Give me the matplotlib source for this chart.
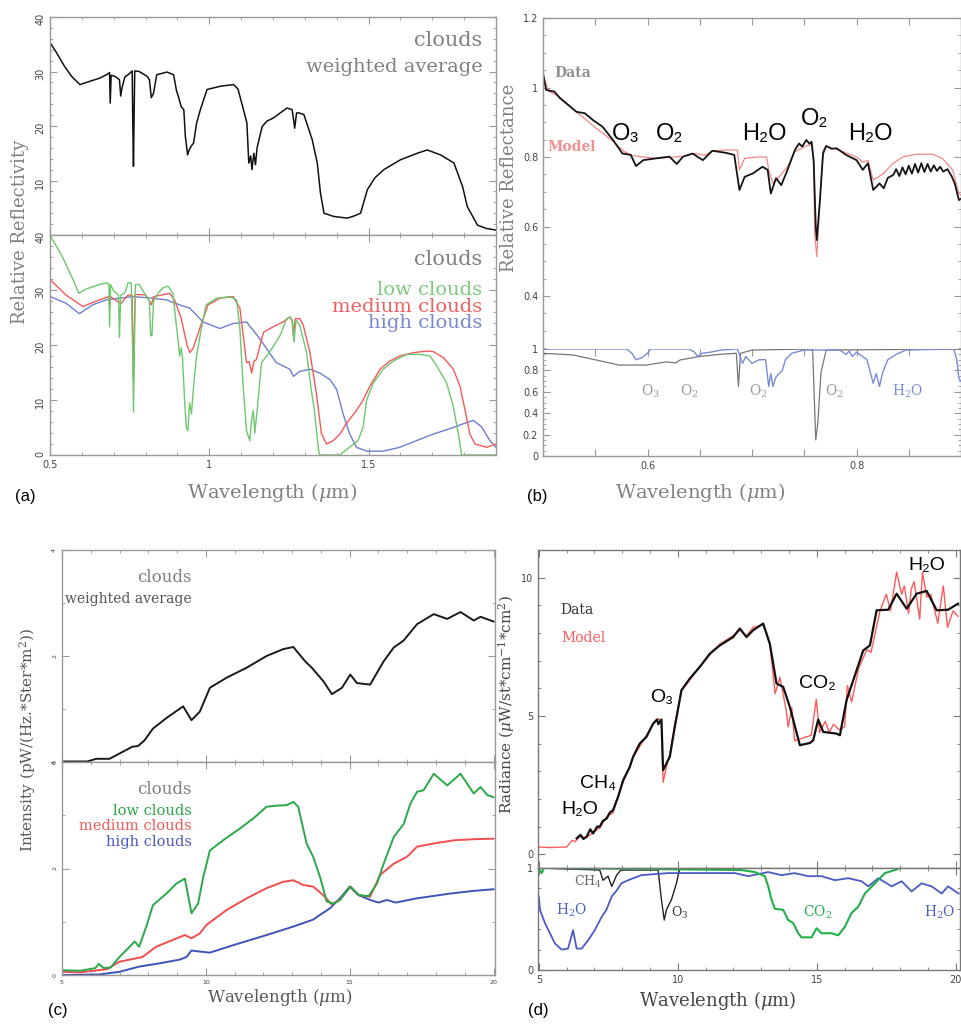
import matplotlib
matplotlib.use('Agg')
import matplotlib.pyplot as plt
from matplotlib.ticker import MultipleLocator, FuncFormatter, FixedLocator

plt.rcParams['font.family'] = ['DejaVu Serif', 'DejaVu Sans']
plt.rcParams['mathtext.fontset'] = 'dejavuserif'

# ---- (a) reflectivity, 0.5 - 1.9 um ----
a_avg_wl = [0.50, 0.52, 0.545, 0.568, 0.594, 0.625, 0.657, 0.680, 0.687, 0.689, 0.692, 0.704,
            0.718, 0.722, 0.726, 0.735, 0.745, 0.758, 0.760, 0.762, 0.764, 0.766, 0.780, 0.805,
            0.812, 0.818, 0.825, 0.835, 0.867, 0.888, 0.897, 0.904, 0.912, 0.920, 0.925, 0.932,
            0.936, 0.942, 0.951, 0.960, 0.972, 0.993, 1.035, 1.076, 1.090, 1.105, 1.118, 1.124,
            1.130, 1.134, 1.140, 1.145, 1.150, 1.166, 1.181, 1.202, 1.225, 1.244, 1.260, 1.265,
            1.268, 1.274, 1.281, 1.297, 1.323, 1.339, 1.349, 1.360, 1.391, 1.433, 1.455, 1.475,
            1.496, 1.520, 1.548, 1.600, 1.653, 1.684, 1.726, 1.768, 1.795, 1.810, 1.842, 1.870, 1.900]
a_avg = [35.3, 33.5, 31.0, 29.1, 27.6, 28.2, 28.8, 29.5, 29.8, 24.2, 29.3, 29.1,
         28.5, 25.5, 27.0, 29.0, 29.4, 30.1, 20.0, 12.6, 22.0, 30.1, 30.0, 29.1,
         28.5, 25.2, 26.0, 29.4, 29.9, 29.4, 26.5, 25.2, 23.5, 23.0, 18.0, 14.7,
         15.5, 16.2, 16.9, 20.5, 23.0, 26.7, 27.3, 27.6, 26.8, 23.5, 20.6, 13.2,
         14.5, 12.0, 15.0, 12.9, 16.0, 19.9, 20.9, 21.5, 22.5, 23.3, 23.0, 21.0,
         19.6, 22.4, 22.4, 22.1, 17.5, 13.2, 7.7, 4.0, 3.4, 3.1, 3.5, 4.0,
         8.3, 10.5, 12.0, 13.8, 15.0, 15.6, 14.7, 13.2, 8.9, 5.2, 1.8, 1.2, 0.9]

a_low_wl = [0.50, 0.54, 0.577, 0.590, 0.610, 0.630, 0.655, 0.680, 0.685, 0.687, 0.690, 0.700,
            0.715, 0.718, 0.722, 0.735, 0.745, 0.755, 0.759, 0.762, 0.765, 0.768, 0.780, 0.800,
            0.812, 0.816, 0.820, 0.825, 0.840, 0.855, 0.870, 0.886, 0.897, 0.902, 0.907, 0.912,
            0.916, 0.923, 0.928, 0.933, 0.938, 0.944, 0.950, 0.960, 0.975, 0.990, 1.023, 1.065,
            1.086, 1.096, 1.107, 1.117, 1.127, 1.132, 1.138, 1.143, 1.150, 1.164, 1.180, 1.196,
            1.222, 1.243, 1.253, 1.262, 1.266, 1.272, 1.284, 1.305, 1.320, 1.330, 1.342, 1.346,
            1.410, 1.440, 1.467, 1.483, 1.494, 1.515, 1.546, 1.578, 1.620, 1.661, 1.693, 1.714,
            1.745, 1.766, 1.782, 1.792, 1.900]
a_low = [40.0, 35.9, 31.3, 29.4, 30.1, 30.5, 31.0, 31.3, 31.0, 23.3, 31.0, 29.8,
         29.1, 21.4, 29.0, 29.5, 31.3, 31.3, 20.0, 7.8, 20.0, 31.0, 31.0, 29.1,
         28.0, 21.7, 21.7, 28.0, 29.5, 30.4, 30.7, 29.4, 23.3, 21.0, 18.0, 19.5,
         17.5, 9.4, 5.0, 4.4, 9.5, 7.5, 12.0, 18.0, 23.0, 27.3, 28.5, 28.8,
         28.2, 23.0, 11.9, 4.4, 2.6, 6.0, 8.1, 4.0, 8.0, 16.8, 18.0, 19.3,
         21.7, 24.8, 25.1, 24.0, 20.5, 24.5, 23.6, 18.7, 11.9, 8.1, 1.4, 0.0,
         0.0, 1.4, 2.6, 5.1, 10.0, 13.1, 15.6, 17.1, 18.3, 18.3, 18.0, 16.2,
         13.1, 8.8, 3.8, 0.0, 0.0]

a_med_wl = [0.50, 0.55, 0.603, 0.655, 0.685, 0.687, 0.690, 0.715, 0.724, 0.745, 0.758, 0.760,
            0.762, 0.764, 0.767, 0.800, 0.812, 0.818, 0.825, 0.876, 0.891, 0.912, 0.930, 0.939,
            0.950, 0.970, 0.996, 1.033, 1.075, 1.096, 1.108, 1.117, 1.125, 1.133, 1.140, 1.148,
            1.170, 1.200, 1.232, 1.253, 1.260, 1.264, 1.270, 1.284, 1.295, 1.316, 1.336, 1.352,
            1.368, 1.389, 1.410, 1.430, 1.462, 1.483, 1.504, 1.536, 1.567, 1.598, 1.640, 1.682,
            1.703, 1.735, 1.766, 1.787, 1.803, 1.818, 1.834, 1.871, 1.900]
a_med = [31.9, 29.1, 27.0, 28.2, 28.8, 26.7, 28.8, 27.8, 27.6, 29.1, 29.0, 20.0,
         14.0, 20.0, 29.2, 29.1, 28.0, 27.3, 28.8, 29.4, 28.2, 24.8, 20.0, 18.6,
         19.5, 23.0, 27.3, 28.5, 28.8, 26.7, 21.0, 16.8, 17.0, 14.9, 17.0, 17.4,
         22.3, 23.3, 24.2, 25.1, 24.5, 21.7, 24.8, 24.8, 23.6, 18.6, 11.3, 3.9,
         2.0, 2.6, 3.8, 5.7, 8.1, 10.0, 12.5, 15.6, 17.1, 18.0, 18.6, 18.9,
         18.8, 17.7, 15.6, 12.5, 8.1, 3.8, 2.0, 1.4, 2.0]

a_high_wl = [0.50, 0.55, 0.592, 0.634, 0.676, 0.760, 0.823, 0.865, 0.907, 0.939, 0.980, 1.033,
             1.075, 1.117, 1.159, 1.210, 1.253, 1.264, 1.284, 1.316, 1.347, 1.379, 1.400, 1.420,
             1.441, 1.462, 1.494, 1.546, 1.598, 1.650, 1.703, 1.756, 1.798, 1.829, 1.855, 1.881, 1.900]
a_high = [28.8, 27.6, 25.7, 27.3, 28.2, 28.8, 28.5, 28.2, 27.3, 26.7, 24.2, 23.0,
          23.9, 24.2, 21.1, 16.8, 15.6, 14.3, 15.2, 15.6, 14.9, 13.7, 11.9, 7.5,
          3.8, 1.4, 0.7, 0.7, 1.4, 2.6, 3.8, 4.8, 5.7, 6.3, 5.1, 2.6, 1.4]

# ---- (b) relative reflectance, 0.5 - 0.9 um ----
b_data_wl = [0.500, 0.503, 0.511, 0.516, 0.522, 0.532, 0.540, 0.548, 0.557, 0.567, 0.576, 0.584,
             0.589, 0.596, 0.608, 0.621, 0.628, 0.634, 0.643, 0.653, 0.662, 0.675, 0.683, 0.688,
             0.693, 0.701, 0.710, 0.715, 0.718, 0.723, 0.728, 0.734, 0.741, 0.745, 0.748, 0.752,
             0.755, 0.757, 0.759, 0.761, 0.762, 0.765, 0.768, 0.771, 0.776, 0.781, 0.790, 0.800,
             0.806, 0.811, 0.816, 0.822, 0.826, 0.830, 0.835, 0.838, 0.841, 0.844, 0.847, 0.850,
             0.853, 0.856, 0.859, 0.862, 0.865, 0.868, 0.871, 0.874, 0.877, 0.880, 0.883, 0.887,
             0.891, 0.894, 0.898, 0.900]
b_data = [1.041, 0.993, 0.988, 0.970, 0.955, 0.930, 0.926, 0.906, 0.887, 0.849, 0.810, 0.806,
          0.774, 0.791, 0.796, 0.801, 0.780, 0.801, 0.810, 0.791, 0.818, 0.812, 0.806, 0.705,
          0.743, 0.753, 0.772, 0.763, 0.695, 0.739, 0.719, 0.763, 0.820, 0.839, 0.830, 0.849,
          0.838, 0.844, 0.791, 0.600, 0.561, 0.676, 0.810, 0.832, 0.824, 0.825, 0.806, 0.791,
          0.763, 0.782, 0.705, 0.724, 0.710, 0.740, 0.748, 0.765, 0.745, 0.770, 0.750, 0.775,
          0.752, 0.780, 0.755, 0.782, 0.757, 0.780, 0.758, 0.776, 0.760, 0.772, 0.758, 0.765,
          0.745, 0.724, 0.676, 0.680]

b_model_wl = [0.500, 0.505, 0.515, 0.530, 0.550, 0.565, 0.578, 0.585, 0.595, 0.610, 0.625, 0.635,
              0.645, 0.655, 0.662, 0.675, 0.686, 0.688, 0.693, 0.705, 0.714, 0.716, 0.720, 0.726,
              0.734, 0.741, 0.752, 0.757, 0.759, 0.760, 0.762, 0.765, 0.768, 0.771, 0.781, 0.790,
              0.800, 0.806, 0.811, 0.816, 0.822, 0.826, 0.835, 0.845, 0.857, 0.873, 0.882, 0.892,
              0.898, 0.900]
b_model = [1.040, 0.990, 0.975, 0.935, 0.885, 0.850, 0.815, 0.805, 0.800, 0.796, 0.800, 0.802,
           0.810, 0.805, 0.818, 0.820, 0.820, 0.763, 0.796, 0.800, 0.800, 0.763, 0.724, 0.743,
           0.772, 0.815, 0.832, 0.835, 0.780, 0.580, 0.513, 0.676, 0.820, 0.830, 0.822, 0.812,
           0.800, 0.785, 0.790, 0.734, 0.745, 0.753, 0.782, 0.801, 0.808, 0.808, 0.796, 0.763,
           0.695, 0.690]

b_o2o3_wl = [0.500, 0.529, 0.551, 0.573, 0.599, 0.618, 0.627, 0.631, 0.650, 0.669, 0.685, 0.687,
             0.689, 0.700, 0.758, 0.761, 0.763, 0.766, 0.771, 0.900]
b_o2o3 = [0.96, 0.944, 0.897, 0.85, 0.85, 0.88, 0.87, 0.897, 0.93, 0.95, 0.96, 0.65,
          0.96, 0.99, 1.0, 0.15, 0.31, 0.78, 0.99, 1.0]

b_h2o_wl = [0.500, 0.580, 0.585, 0.589, 0.595, 0.600, 0.603, 0.640, 0.645, 0.648, 0.652, 0.660,
            0.670, 0.686, 0.691, 0.694, 0.700, 0.707, 0.713, 0.716, 0.718, 0.720, 0.723, 0.729,
            0.732, 0.738, 0.750, 0.784, 0.790, 0.793, 0.796, 0.800, 0.810, 0.816, 0.819, 0.822,
            0.825, 0.830, 0.838, 0.847, 0.893, 0.896, 0.898, 0.900]
b_h2o = [1.0, 1.0, 0.96, 0.90, 0.92, 0.96, 1.0, 1.0, 0.97, 0.93, 0.96, 0.97,
         0.99, 1.0, 0.866, 0.93, 0.866, 0.90, 0.90, 0.65, 0.77, 0.65, 0.74, 0.80,
         0.90, 0.96, 0.99, 0.99, 0.95, 0.98, 0.93, 0.97, 0.90, 0.68, 0.77, 0.65,
         0.78, 0.90, 0.95, 0.99, 1.0, 0.90, 0.72, 0.70]

# ---- (c) thermal intensity, 5 - 20 um ----
c_avg_wl = [5.0, 5.88, 6.19, 6.65, 7.0, 7.45, 7.64, 7.87, 8.16, 8.63, 9.21, 9.5,
            9.79, 10.14, 10.72, 11.42, 12.11, 12.69, 13.04, 13.45, 13.68, 14.09, 14.38, 14.73,
            15.02, 15.25, 15.71, 16.18, 16.53, 16.87, 17.34, 17.92, 18.39, 18.85, 19.31, 19.55, 20.0]
c_avg = [0.01, 0.01, 0.06, 0.06, 0.16, 0.29, 0.30, 0.41, 0.63, 0.83, 1.05, 0.79,
         0.95, 1.40, 1.59, 1.78, 2.00, 2.13, 2.17, 1.90, 1.78, 1.52, 1.28, 1.40,
         1.65, 1.49, 1.46, 1.90, 2.16, 2.29, 2.60, 2.79, 2.70, 2.83, 2.67, 2.74, 2.65]

c_low_wl = [5.0, 5.64, 6.16, 6.28, 6.45, 6.69, 7.0, 7.35, 7.53, 7.68, 7.93, 8.16,
            8.63, 8.98, 9.27, 9.5, 9.73, 9.91, 10.14, 10.6, 11.18, 11.65, 12.11, 12.46,
            12.81, 13.04, 13.21, 13.5, 13.73, 13.97, 14.2, 14.43, 14.66, 15.02, 15.31, 15.66,
            15.95, 16.18, 16.53, 16.88, 17.11, 17.34, 17.57, 17.92, 18.39, 18.85, 19.31, 19.55,
            19.78, 20.0]
c_low = [0.09, 0.08, 0.13, 0.21, 0.13, 0.14, 0.34, 0.53, 0.63, 0.53, 0.91, 1.31,
         1.53, 1.72, 1.81, 1.16, 1.34, 1.84, 2.34, 2.53, 2.75, 2.94, 3.16, 3.18,
         3.19, 3.25, 3.16, 2.47, 2.22, 1.84, 1.38, 1.34, 1.41, 1.66, 1.50, 1.48,
         1.72, 2.09, 2.59, 2.84, 3.22, 3.44, 3.47, 3.78, 3.56, 3.78, 3.41, 3.53,
         3.38, 3.34]

c_med_wl = [5.0, 5.64, 6.1, 6.57, 7.0, 7.45, 7.8, 8.27, 8.86, 9.27, 9.5, 9.79,
            10.02, 10.72, 11.42, 12.11, 12.69, 13.04, 13.39, 13.73, 14.08, 14.37, 14.66, 15.02,
            15.31, 15.71, 16.06, 16.53, 16.99, 17.34, 17.92, 18.62, 19.31, 20.0]
c_med = [0.06, 0.05, 0.08, 0.11, 0.25, 0.30, 0.34, 0.53, 0.66, 0.75, 0.69, 0.78,
         0.94, 1.22, 1.44, 1.63, 1.75, 1.78, 1.69, 1.66, 1.50, 1.33, 1.41, 1.66,
         1.50, 1.47, 1.88, 2.09, 2.22, 2.41, 2.47, 2.53, 2.55, 2.56]

c_high_wl = [5.0, 6.3, 7.0, 7.7, 8.4, 9.1, 9.33, 9.5, 9.79, 10.14, 10.95, 12.11,
             13.04, 13.73, 13.97, 14.31, 14.66, 15.0, 15.31, 15.71, 16.0, 16.3, 16.59, 17.34,
             18.5, 19.31, 20.0]
c_high = [0.0, 0.01, 0.06, 0.16, 0.22, 0.29, 0.34, 0.46, 0.44, 0.42, 0.56, 0.75,
          0.91, 1.04, 1.13, 1.25, 1.44, 1.66, 1.50, 1.41, 1.36, 1.41, 1.36, 1.44,
          1.53, 1.58, 1.61]

# ---- (d) radiance, 5 - 20 um ----
d_data_wl = [6.36, 6.5, 6.6, 6.72, 6.85, 6.95, 7.1, 7.19, 7.3, 7.44, 7.55, 7.67,
             7.85, 8.03, 8.27, 8.39, 8.63, 8.87, 9.11, 9.25, 9.3, 9.41, 9.47, 9.71,
             9.89, 10.13, 10.43, 10.79, 11.15, 11.51, 11.99, 12.23, 12.47, 12.71, 13.07, 13.31,
             13.55, 13.79, 14.03, 14.39, 14.75, 14.87, 15.05, 15.23, 15.71, 15.83, 16.07, 16.43,
             16.67, 16.91, 17.15, 17.57, 17.87, 18.23, 18.59, 18.95, 19.31, 19.72, 20.08]
d_data = [0.57, 0.70, 0.55, 0.63, 0.90, 0.75, 1.00, 0.99, 1.20, 1.29, 1.50, 1.59,
          2.07, 2.67, 3.15, 3.52, 4.00, 4.24, 4.72, 4.87, 4.70, 4.87, 3.04, 3.52,
          4.60, 5.93, 6.35, 6.77, 7.25, 7.55, 7.85, 8.16, 7.85, 8.10, 8.34, 7.61,
          6.17, 6.05, 5.32, 3.94, 4.02, 4.12, 4.87, 4.42, 4.36, 4.30, 5.57, 6.65,
          7.37, 7.55, 8.82, 8.84, 9.42, 8.88, 9.42, 9.52, 8.82, 8.84, 9.06]

d_model_wl = [5.0, 5.4, 6.0, 6.2, 6.3, 6.47, 6.72, 6.95, 7.19, 7.44, 7.67, 7.85,
              8.03, 8.27, 8.39, 8.63, 8.87, 9.11, 9.3, 9.41, 9.47, 9.6, 9.71, 9.89,
              10.13, 10.43, 10.79, 11.15, 11.51, 11.99, 12.23, 12.47, 12.71, 13.07, 13.31, 13.5,
              13.67, 13.9, 13.97, 14.1, 14.2, 14.5, 14.8, 14.98, 15.1, 15.3, 15.45, 15.6,
              15.8, 16.0, 16.1, 16.25, 16.5, 16.8, 16.95, 17.1, 17.27, 17.5, 17.65, 17.87,
              18.05, 18.15, 18.3, 18.4, 18.5, 18.7, 18.8, 18.95, 19.1, 19.35, 19.55, 19.7,
              19.9, 20.08]
d_model = [0.26, 0.24, 0.26, 0.50, 0.45, 0.63, 0.60, 0.78, 0.95, 1.35, 1.50, 2.10,
           2.60, 3.20, 3.50, 3.90, 4.30, 4.70, 4.90, 4.80, 2.60, 3.20, 3.60, 4.70,
           5.90, 6.30, 6.80, 7.20, 7.60, 7.90, 8.10, 7.90, 8.20, 8.30, 7.60, 5.80,
           6.40, 5.20, 4.60, 5.30, 4.10, 4.20, 4.30, 5.60, 4.40, 4.80, 4.40, 4.70,
           4.50, 4.60, 6.10, 5.50, 6.70, 7.40, 7.30, 8.00, 8.80, 9.40, 8.80, 10.20,
           9.40, 9.70, 8.70, 9.60, 9.86, 8.50, 10.20, 9.30, 9.40, 8.35, 9.70, 8.20,
           8.80, 8.60]

d_h2o_wl = [5.0, 5.04, 5.22, 5.4, 5.58, 5.82, 6.05, 6.23, 6.36, 6.54, 6.77, 7.01,
            7.26, 7.43, 7.62, 7.8, 7.97, 8.21, 8.69, 9.65, 10.85, 12.05, 12.53, 13.25,
            13.73, 14.2, 14.69, 15.17, 15.65, 16.13, 16.61, 16.85, 17.21, 17.69, 18.05, 18.41,
            18.77, 19.13, 19.49, 19.72, 20.1]
d_h2o = [0.72, 0.59, 0.46, 0.36, 0.26, 0.20, 0.21, 0.39, 0.21, 0.21, 0.29, 0.39,
         0.52, 0.59, 0.72, 0.78, 0.85, 0.88, 0.93, 0.95, 0.95, 0.95, 0.92, 0.96,
         0.93, 0.95, 0.92, 0.92, 0.88, 0.90, 0.87, 0.82, 0.90, 0.82, 0.87, 0.77,
         0.85, 0.82, 0.75, 0.82, 0.75]

d_ch4o3_wl = [5.0, 7.19, 7.31, 7.49, 7.62, 7.8, 7.95, 9.29, 9.41, 9.51, 9.59, 9.77,
              9.95, 10.07, 20.1]
d_ch4o3 = [1.0, 0.98, 0.88, 0.92, 0.82, 0.93, 0.98, 0.98, 0.69, 0.49, 0.59, 0.69,
           0.85, 1.0, 1.0]

d_co2_wl = [5.0, 5.05, 5.1, 5.18, 12.29, 12.77, 13.13, 13.25, 13.37, 13.49, 13.79, 13.97,
            14.15, 14.33, 14.45, 14.81, 14.99, 15.17, 15.53, 15.77, 16.0, 16.25, 16.49, 16.73,
            17.09, 17.45, 17.81, 18.0, 20.1]
d_co2 = [1.0, 0.97, 0.95, 1.0, 0.98, 0.96, 0.92, 0.82, 0.69, 0.60, 0.59, 0.49,
         0.46, 0.36, 0.32, 0.32, 0.41, 0.36, 0.36, 0.34, 0.42, 0.56, 0.62, 0.75,
         0.85, 0.95, 0.98, 1.0, 1.0]

W, H = 961, 1030
fig = plt.figure(figsize=(W / 100, H / 100), dpi=100)
gfmt = FuncFormatter(lambda v, p: '%g' % v)


def box(l, t, r, b):
    # axes from pixel edges of the original picture
    return fig.add_axes([l / W, 1 - b / H, (r - l) / W, (b - t) / H])


def frame(ax, size=7, rot=0, col='#999999'):
    for s in ax.spines.values():
        s.set_color(col)
        s.set_linewidth(1.0)
    ax.tick_params(which='both', direction='in', top=True, right=True, colors=col,
                   labelcolor='#444444', labelsize=size, labelrotation=0)
    ax.tick_params(which='major', length=5)
    ax.tick_params(which='minor', length=2.5)
    ax.tick_params(axis='y', labelrotation=rot)
    ax.xaxis.set_major_formatter(gfmt)
    ax.yaxis.set_major_formatter(gfmt)
    for lab in ax.get_xticklabels() + ax.get_yticklabels():
        lab.set_family('DejaVu Sans')


def ftext(x, y, s, **kw):
    fig.text(x / W, 1 - y / H, s, **kw)


# ================= (a) =================
gray = '#808080'
ax = box(50, 17, 496, 235)
ax.plot(a_avg_wl, a_avg, color='#111111', lw=1.1)
ax.set_xlim(0.5, 1.9)
ax.set_ylim(0, 40)
ax.xaxis.set_major_locator(MultipleLocator(0.5))
ax.xaxis.set_minor_locator(MultipleLocator(0.1))
ax.yaxis.set_major_locator(FixedLocator([10, 20, 30, 40]))
ax.yaxis.set_minor_locator(MultipleLocator(2))
frame(ax, rot=90)
ax.tick_params(axis='x', labelbottom=False)
ax.text(0.97, 0.89, 'clouds', transform=ax.transAxes, ha='right', va='center',
        fontsize=15, color=gray)
ax.text(0.97, 0.77, 'weighted average', transform=ax.transAxes, ha='right', va='center',
        fontsize=14, color=gray)

ax = box(50, 235, 496, 455)
ax.plot(a_high_wl, a_high, color='#6f7fcf', lw=1.0)
ax.plot(a_med_wl, a_med, color='#f25a5a', lw=1.0)
ax.plot(a_low_wl, a_low, color='#6cc86c', lw=1.0)
ax.set_xlim(0.5, 1.9)
ax.set_ylim(0, 40)
ax.xaxis.set_major_locator(MultipleLocator(0.5))
ax.xaxis.set_minor_locator(MultipleLocator(0.1))
ax.yaxis.set_major_locator(MultipleLocator(10))
ax.yaxis.set_minor_locator(MultipleLocator(2))
frame(ax, rot=90)
ax.text(0.97, 0.89, 'clouds', transform=ax.transAxes, ha='right', va='center',
        fontsize=15, color=gray)
ax.text(0.97, 0.75, 'low clouds', transform=ax.transAxes, ha='right', va='center',
        fontsize=14, color='#7ccc7c')
ax.text(0.97, 0.675, 'medium clouds', transform=ax.transAxes, ha='right', va='center',
        fontsize=14, color='#f06060')
ax.text(0.97, 0.60, 'high clouds', transform=ax.transAxes, ha='right', va='center',
        fontsize=14, color='#7888d0')
ftext(20, 232, 'Relative Reflectivity', rotation=90, ha='center', va='center',
      fontsize=13, color=gray)
ftext(272, 492, r'Wavelength ($\mu$m)', ha='center', va='center', fontsize=14, color=gray)

# ================= (b) =================
ax = box(543, 18, 961, 349)
ax.plot(b_model_wl, b_model, color='#f08888', lw=0.9)
ax.plot(b_data_wl, b_data, color='#151515', lw=1.3)
ax.set_xlim(0.5, 0.9)
ax.set_ylim(0.2475, 1.2)
ax.xaxis.set_major_locator(MultipleLocator(0.05))
ax.yaxis.set_major_locator(FixedLocator([0.4, 0.6, 0.8, 1.0, 1.2]))
ax.yaxis.set_minor_locator(MultipleLocator(0.05))
frame(ax)
ax.spines['bottom'].set_visible(False)
ax.tick_params(axis='x', labelbottom=False, bottom=False)
ftext(573, 73, 'Data', ha='center', va='center', fontsize=10, color='#909090', weight='bold')
ftext(572, 147, 'Model', ha='center', va='center', fontsize=10, color='#f09090', weight='bold')
for lx, ly, s in [(626, 134, 'O₃'), (670, 134, 'O₂'), (764, 134, 'H₂O'),
                  (815, 119, 'O₂'), (870, 134, 'H₂O')]:
    ftext(lx, ly, s, ha='center', va='center', fontsize=17, color='black',
          family=['Liberation Sans', 'DejaVu Sans'])

ax = box(543, 349, 961, 456)
ax.plot(b_o2o3_wl, b_o2o3, color='#777777', lw=0.9)
ax.plot(b_h2o_wl, b_h2o, color='#7b8bd2', lw=1.0)
ax.set_xlim(0.5, 0.9)
ax.set_ylim(0, 1)
ax.xaxis.set_major_locator(MultipleLocator(0.05))
ax.yaxis.set_major_locator(MultipleLocator(0.2))
ax.yaxis.set_minor_locator(MultipleLocator(0.05))
frame(ax)
# only 0.6 and 0.8 carry a label
ax.xaxis.set_major_formatter(FuncFormatter(lambda v, p: '%g' % round(v, 2)
                                           if abs(v - 0.6) < 1e-6 or abs(v - 0.8) < 1e-6 else ''))
ax.spines['top'].set_visible(False)
for lx, s, c in [(651, 'O$_3$', '#9a9a9a'), (689, 'O$_2$', '#9a9a9a'), (758, 'O$_2$', '#9a9a9a'),
                 (834, 'O$_2$', '#9a9a9a'), (908, 'H$_2$O', '#7b8bd2')]:
    ftext(lx, 391, s, ha='center', va='center', fontsize=10, color=c)
ftext(509, 178, 'Relative Reflectance', rotation=90, ha='center', va='center',
      fontsize=13, color=gray)
ftext(700, 492, r'Wavelength ($\mu$m)', ha='center', va='center', fontsize=14, color=gray)

# ================= (c) =================
ax = box(62, 550, 495, 762)
ax.plot(c_avg_wl, c_avg, color='#1a1a1a', lw=1.4)
ax.set_xlim(5, 20.05)
ax.set_ylim(0, 4)
ax.xaxis.set_major_locator(MultipleLocator(5))
ax.xaxis.set_minor_locator(MultipleLocator(1))
ax.yaxis.set_major_locator(MultipleLocator(2))
ax.yaxis.set_minor_locator(MultipleLocator(1))
frame(ax, size=4.5, rot=90)
ax.tick_params(axis='x', labelbottom=False)
ftext(192, 578, 'clouds', ha='right', va='center', fontsize=12, color=gray)
ftext(192, 599, 'weighted average', ha='right', va='center', fontsize=10, color='#555555')

ax = box(62, 762, 495, 975)
ax.plot(c_high_wl, c_high, color='#3e52b8', lw=1.4)
ax.plot(c_med_wl, c_med, color='#f04e4e', lw=1.4)
ax.plot(c_low_wl, c_low, color='#2aa84a', lw=1.4)
ax.set_xlim(5, 20.05)
ax.set_ylim(0, 4)
ax.xaxis.set_major_locator(MultipleLocator(5))
ax.xaxis.set_minor_locator(MultipleLocator(1))
ax.yaxis.set_major_locator(MultipleLocator(2))
ax.yaxis.set_minor_locator(MultipleLocator(1))
frame(ax, size=4.5, rot=90)
ftext(192, 790, 'clouds', ha='right', va='center', fontsize=12, color=gray)
ftext(192, 811, 'low clouds', ha='right', va='center', fontsize=10.5, color='#2aa84a')
ftext(192, 826, 'medium clouds', ha='right', va='center', fontsize=10.5, color='#f05a5a')
ftext(192, 842, 'high clouds', ha='right', va='center', fontsize=10.5, color='#4a5cc0')
ftext(28, 740, r'Intensity (pW/(Hz.*Ster*m$^2$))', rotation=90, ha='center', va='center',
      fontsize=11, color='#555555')
ftext(280, 997, r'Wavelength ($\mu$m)', ha='center', va='center', fontsize=12, color='#555555')

# ================= (d) =================
ax = box(538, 550, 960, 868)
ax.plot(d_model_wl, d_model, color='#ff5a5a', lw=1.0)
ax.plot(d_data_wl, d_data, color='#111111', lw=1.6)
ax.set_xlim(4.97, 20.15)
ax.set_ylim(-0.5, 11)
ax.xaxis.set_major_locator(MultipleLocator(5))
ax.xaxis.set_minor_locator(MultipleLocator(1))
ax.yaxis.set_major_locator(FixedLocator([0, 5, 10]))
ax.yaxis.set_minor_locator(MultipleLocator(1))
frame(ax, col='#777777')
ax.tick_params(axis='x', labelbottom=False)
ftext(577, 610, 'Data', ha='center', va='center', fontsize=10, color='#333333')
ftext(583, 638, 'Model', ha='center', va='center', fontsize=10, color='#ff5a5a')
for lx, ly, s in [(927, 566, 'H₂O'), (817, 684, 'CO₂'), (662, 698, 'O₃'),
                  (598, 784, 'CH₄'), (580, 810, 'H₂O')]:
    ftext(lx, ly, s, ha='center', va='center', fontsize=14, color='black',
          family=['Liberation Sans', 'DejaVu Sans'])

ax = box(538, 868, 960, 970)
ax.plot(d_ch4o3_wl, d_ch4o3, color='#222222', lw=1.0)
ax.plot(d_h2o_wl, d_h2o, color='#4a5cc4', lw=1.3)
ax.plot(d_co2_wl, d_co2, color='#22b04a', lw=1.5)
ax.set_xlim(4.97, 20.15)
ax.set_ylim(0, 1)
ax.xaxis.set_major_locator(MultipleLocator(5))
ax.xaxis.set_minor_locator(MultipleLocator(1))
ax.yaxis.set_major_locator(FixedLocator([0, 1]))
ax.yaxis.set_minor_locator(MultipleLocator(0.2))
frame(ax, col='#777777')
ftext(588, 882, 'CH$_4$', ha='center', va='center', fontsize=9, color='#666666')
ftext(572, 910, 'H$_2$O', ha='center', va='center', fontsize=10, color='#4a5cc4')
ftext(680, 913, 'O$_3$', ha='center', va='center', fontsize=9, color='#333333')
ftext(818, 912, 'CO$_2$', ha='center', va='center', fontsize=10, color='#22b04a')
ftext(940, 912, 'H$_2$O', ha='center', va='center', fontsize=10, color='#4a5cc4')
ftext(507, 705, r'Radiance ($\mu$W/st*cm$^{-1}$*cm$^2$)', rotation=90, ha='center',
      va='center', fontsize=11, color='#444444')
ftext(718, 1000, r'Wavelength ($\mu$m)', ha='center', va='center', fontsize=13, color='#444444')

# panel letters
for lx, ly, s in [(25, 497, '(a)'), (537, 497, '(b)'), (58, 1010, '(c)'), (538, 1010, '(d)')]:
    ftext(lx, ly, s, ha='center', va='center', fontsize=12, color='black',
          family=['Liberation Sans', 'DejaVu Sans'])

fig.savefig('out.png', dpi=100)
